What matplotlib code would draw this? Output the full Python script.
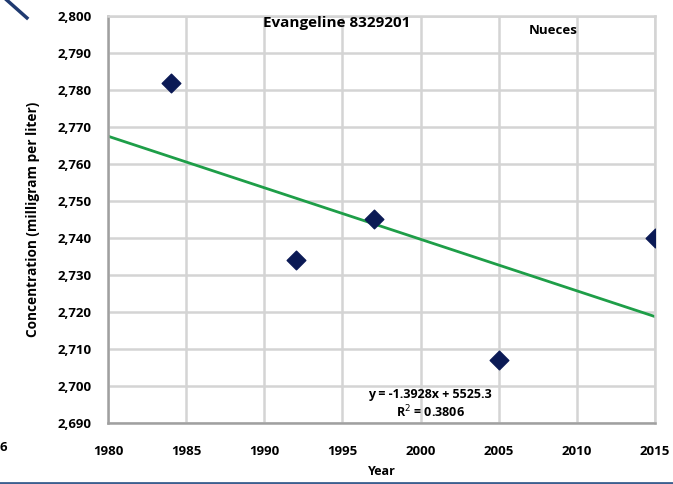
import matplotlib.pyplot as plt
import numpy as np

years = [1984, 1992, 1997, 2005, 2015]
conc = [2782, 2734, 2745, 2707, 2740]
xticks = [1980, 1985, 1990, 1995, 2000, 2005, 2010, 2015]
yticks = list(range(2690, 2801, 10))

plt.rcParams['font.family'] = ['Open Sans', 'DejaVu Sans']

fig = plt.figure(figsize=(6.73, 4.84), dpi=100)
ax = fig.add_axes([0.1605, 0.126, 0.8128, 0.841])

# linear trend
slope, icpt = np.polyfit(years, conc, 1)
xs = np.array([1980, 2015])
ax.plot(xs, slope * xs + icpt, c='#1e9e48', lw=2, zorder=2)

ax.scatter(years, conc, marker='D', s=90, c='#0b1a55', zorder=3)

ax.set_xlim(1980, 2015)
ax.set_ylim(2690, 2800)
ax.set_xticks(xticks)
ax.set_yticks(yticks)
ax.set_yticklabels(['{:,}'.format(v) for v in yticks])
ax.tick_params(axis='y', length=0, labelsize=9.5, pad=12)
ax.tick_params(axis='x', length=0, labelsize=9.5, pad=16)
for lab in ax.get_xticklabels() + ax.get_yticklabels():
    lab.set_fontweight('bold')
ax.grid(True, color='#d4d4d4', lw=1.8)
ax.set_axisbelow(True)
for s in ax.spines.values():
    s.set_color('#d4d4d4')
    s.set_linewidth(1.8)
ax.spines['left'].set_color('#a0a0a0')
ax.spines['bottom'].set_color('#a0a0a0')

ax.set_xlabel('Year', fontsize=9, fontweight='bold', labelpad=5)
ax.set_ylabel('Concentration (milligram per liter)', fontsize=9.8, fontweight='bold', labelpad=12)

ax.text(1989.9, 2798.2, 'Evangeline 8329201', fontsize=11, fontweight='bold', ha='left', va='center')
ax.text(2008.5, 2796.2, 'Nueces', fontsize=9.5, fontweight='bold', ha='center', va='center')
ax.text(2000.6, 2697.6, 'y = -1.3928x + 5525.3', fontsize=9, fontweight='bold', ha='center', va='center')
ax.text(2000.6, 2693.0, 'R$^2$ = 0.3806', fontsize=9, fontweight='bold', ha='center', va='center')

# bits of the neighbouring charts cut off in the crop
fig.add_artist(plt.Line2D([0.01, 0.04], [1.0, 0.963], color='#1f3a70', lw=2.5))
fig.add_artist(plt.Line2D([0, 1], [0.003, 0.003], color='#3b5f8f', lw=2))
fig.text(0.0, 0.075, '6', fontsize=9.5, fontweight='bold', va='center')

fig.savefig('out.png', dpi=100)
